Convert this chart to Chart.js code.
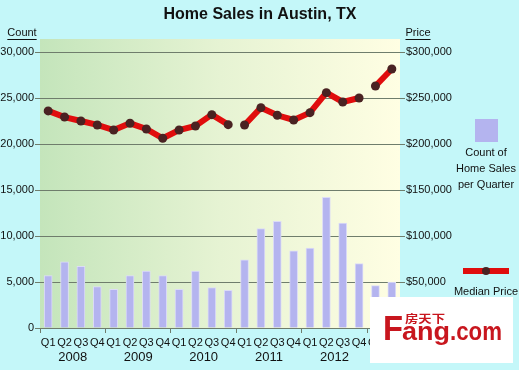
<!DOCTYPE html>
<html>
<head>
<meta charset="utf-8">
<script src="https://cdn.jsdelivr.net/npm/chart.js@4.4.1/dist/chart.umd.min.js"></script>
<style>
  html, body { margin: 0; padding: 0; background: #c4f7f9; }
  #wrap { width: 519px; height: 370px; position: relative; }
</style>
</head>
<body>
<div id="wrap"><canvas id="salesChart" width="519" height="370"></canvas></div>
<script>
// Quarter labels, 2008 Q1 .. 2013 Q2
const quarters = ['Q1','Q2','Q3','Q4','Q1','Q2','Q3','Q4','Q1','Q2','Q3','Q4',
                  'Q1','Q2','Q3','Q4','Q1','Q2','Q3','Q4','Q1','Q2'];
const years = ['2008','2009','2010','2011','2012','2013'];

// Count of home sales per quarter (left axis)
const salesCount = [5700, 7200, 6700, 4500, 4200, 5700, 6200, 5700, 4200, 6200, 4400, 4100,
                    7400, 10800, 11600, 8400, 8700, 14200, 11400, 7000, 4600, 5000];

// Median price (right axis)
const medianPrice = [236000, 229300, 225000, 220700, 215200, 222500, 216300, 206200,
                     215200, 219600, 231900, 221000, 220700, 239500, 231200, 226100,
                     234100, 255800, 245700, 250000, 263000, 281500];

// the price line is broken after these points
const lineBreaks = [11, 19];

const countTicks = [0, 5000, 10000, 15000, 20000, 25000, 30000];

const FONT = '"Liberation Sans", Arial, sans-serif';
const GRID = '#6f7d6c';

// draw text squeezed/stretched to a given width
function fitText(ctx, text, x, y, width) {
  const w = ctx.measureText(text).width;
  ctx.save();
  ctx.translate(x, y);
  ctx.scale(width / w, 1);
  ctx.fillText(text, 0, 0);
  ctx.restore();
}

// plot background + extra text (year labels, axis titles, legend, watermark)
const decorPlugin = {
  id: 'decor',
  beforeDraw(chart) {
    const { ctx, chartArea: a } = chart;
    const g = ctx.createLinearGradient(a.left, 0, a.right, 0);
    g.addColorStop(0, '#c4e5bb');
    g.addColorStop(0.5, '#e6f3d3');
    g.addColorStop(1, '#fffee3');
    ctx.save();
    ctx.fillStyle = g;
    ctx.fillRect(a.left, a.top - 13, a.right - a.left, a.bottom - a.top + 13);
    ctx.restore();
  },
  afterDraw(chart) {
    const { ctx } = chart;
    const xs = chart.scales.x;
    ctx.save();
    ctx.fillStyle = '#111';
    ctx.textAlign = 'center';
    ctx.textBaseline = 'middle';

    // title
    ctx.font = 'bold 16px ' + FONT;
    ctx.fillText('Home Sales in Austin, TX', 260, 15);

    // years under the quarters
    ctx.font = '13px ' + FONT;
    years.forEach((yr, i) => {
      const x = (xs.getPixelForValue(i * 4 + 1) + xs.getPixelForValue(i * 4 + 2)) / 2;
      ctx.fillText(yr, x, 357);
    });

    // axis titles, underlined
    ctx.font = '11px ' + FONT;
    [['Count', 22], ['Price', 418]].forEach(([t, x]) => {
      ctx.fillText(t, x, 33);
      const w = ctx.measureText(t).width;
      ctx.fillRect(x - w / 2, 39, w, 1);
    });

    // legend
    ctx.fillStyle = '#b4b4ef';
    ctx.fillRect(475, 119, 23, 23);
    ctx.fillStyle = '#111';
    ctx.fillText('Count of', 486, 153);
    ctx.fillText('Home Sales', 486, 169);
    ctx.fillText('per Quarter', 486, 185);
    ctx.fillStyle = '#e00d0d';
    ctx.fillRect(463, 268, 46, 6);
    ctx.fillStyle = '#4a2222';
    ctx.beginPath();
    ctx.arc(486, 271, 4, 0, Math.PI * 2);
    ctx.fill();
    ctx.fillStyle = '#111';
    ctx.fillText('Median Price', 486, 292);

    // watermark box
    ctx.fillStyle = '#ffffff';
    ctx.fillRect(370, 297, 143, 66);
    ctx.fillStyle = '#c8161e';
    ctx.textAlign = 'left';
    ctx.textBaseline = 'alphabetic';
    ctx.font = 'bold 11px "Noto Sans CJK SC", sans-serif';
    fitText(ctx, '房天下', 405, 323, 40);
    ctx.font = 'bold 35px ' + FONT;
    fitText(ctx, 'F', 383, 340, 20);
    ctx.font = 'bold 26px ' + FONT;
    fitText(ctx, 'ang', 402, 340, 48);
    fitText(ctx, '.com', 450, 340, 52);
    ctx.restore();
  }
};

new Chart(document.getElementById('salesChart'), {
  data: {
    labels: quarters,
    datasets: [
      {
        type: 'line',
        label: 'Median Price',
        data: medianPrice,
        yAxisID: 'y1',
        order: 0,
        borderColor: '#e00d0d',
        borderWidth: 6,
        pointRadius: 4.5,
        pointBackgroundColor: '#4a2222',
        pointBorderWidth: 0,
        tension: 0,
        segment: {
          borderColor: c => lineBreaks.includes(c.p0DataIndex) ? 'rgba(0,0,0,0)' : '#e00d0d'
        }
      },
      {
        type: 'bar',
        label: 'Count of Home Sales per Quarter',
        data: salesCount,
        yAxisID: 'y',
        order: 1,
        backgroundColor: '#b4b4ef',
        borderColor: '#dcdcf6',
        borderWidth: 1,
        barThickness: 8
      }
    ]
  },
  options: {
    responsive: false,
    animation: false,
    layout: { padding: { top: 52, left: 0, right: 0, bottom: 0 } },
    plugins: { legend: { display: false }, tooltip: { enabled: false } },
    scales: {
      x: {
        offset: true,
        afterFit: s => { s.height = 42; },
        border: { display: true, color: GRID },
        grid: {
          offset: true,
          drawOnChartArea: false,
          tickLength: 5,
          color: c => (c.index % 4 === 0 ? GRID : 'rgba(0,0,0,0)')
        },
        ticks: { color: '#111', font: { family: FONT, size: 11 }, padding: 3, maxRotation: 0, autoSkip: false }
      },
      y: {
        position: 'left',
        min: 0,
        max: 30000,
        afterFit: s => { s.width = 40; },
        afterBuildTicks: s => { s.ticks = countTicks.map(v => ({ value: v })); },
        border: { display: false },
        grid: { color: GRID, tickLength: 5, lineWidth: 1 },
        ticks: {
          color: '#111',
          padding: 1,
          font: { family: FONT, size: 11 },
          callback: v => v.toLocaleString('en-US')
        }
      },
      y1: {
        position: 'right',
        min: 0,
        max: 300000,
        afterFit: s => { s.width = 119; },
        border: { display: false },
        grid: { drawOnChartArea: false, color: GRID, tickLength: 5 },
        ticks: {
          stepSize: 50000,
          color: '#111',
          padding: 1,
          font: { family: FONT, size: 11 },
          callback: v => '$' + v.toLocaleString('en-US')
        }
      }
    }
  },
  plugins: [decorPlugin]
});
</script>
</body>
</html>
